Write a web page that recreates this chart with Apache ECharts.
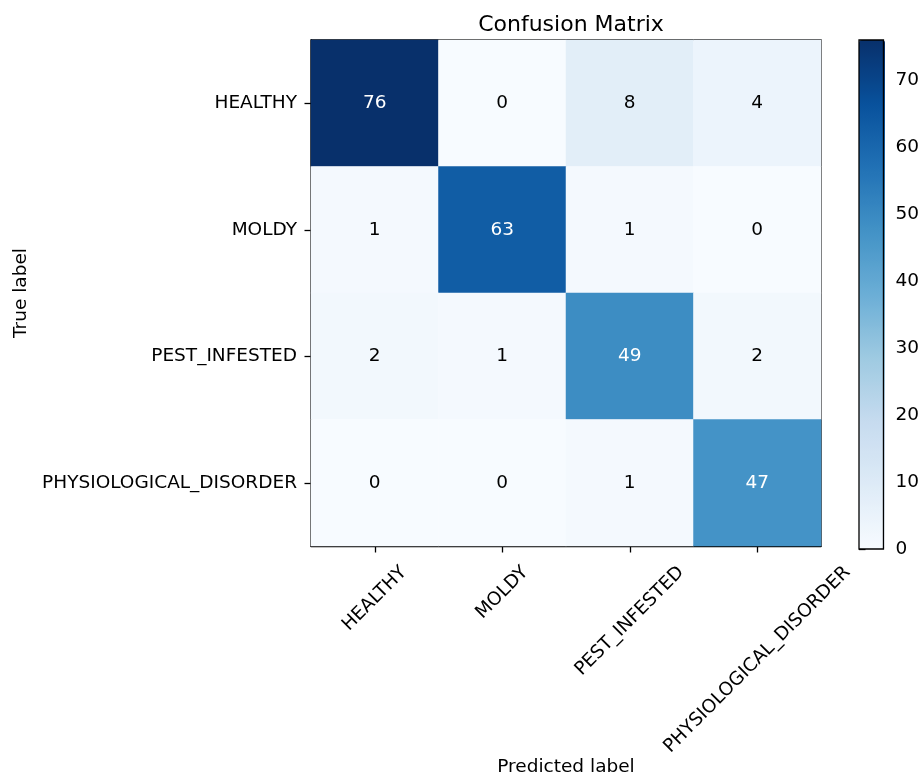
<!DOCTYPE html>
<html>
<head>
<meta charset="utf-8">
<script src="https://cdn.jsdelivr.net/npm/echarts@6/dist/echarts.min.js"></script>
<style>
  html, body { margin: 0; padding: 0; background: #fff; }
  #chart { width: 922px; height: 782px; }
</style>
</head>
<body>
<div id="chart"></div>
<script>
// Class names (rows = true label, columns = predicted label)
const classNames = ['HEALTHY', 'MOLDY', 'PEST_INFESTED', 'PHYSIOLOGICAL_DISORDER'];

// Counts per true class, one entry per predicted class
const rowHealthy = [76, 0, 8, 4];
const rowMoldy = [1, 63, 1, 0];
const rowPest = [2, 1, 49, 2];
const rowPhysio = [0, 0, 1, 47];

// Colorbar ticks
const colorbarTicks = [0, 10, 20, 30, 40, 50, 60, 70];

// Matplotlib "Blues" colormap stops
const bluesStops = ['#f7fbff', '#deebf7', '#c6dbef', '#9ecae1', '#6baed6',
                    '#4292c6', '#2171b5', '#08519c', '#08306b'];

const FONT = 'DejaVu Sans';
const FS = 18.5;
const MAIN = { left: 311, top: 40, width: 510, height: 509 };
const CBAR = { left: 859, top: 40, width: 26, height: 509 };

const rows = [rowHealthy, rowMoldy, rowPest, rowPhysio];
const allValues = rows.flat();
const vmax = Math.max(...allValues);
const thresh = vmax / 2;

const cells = [];
rows.forEach((row, i) => {
  row.forEach((v, j) => {
    cells.push({
      value: [classNames[j], classNames[i], v],
      label: { color: v > thresh ? '#ffffff' : '#000000' }
    });
  });
});

const chart = echarts.init(document.getElementById('chart'), null, { renderer: 'canvas' });

chart.setOption({
  animation: false,
  backgroundColor: '#ffffff',
  textStyle: { fontFamily: FONT },
  title: {
    text: 'Confusion Matrix',
    left: MAIN.left + MAIN.width / 2,
    textAlign: 'center',
    top: 9,
    textStyle: { fontFamily: FONT, fontSize: 22, fontWeight: 'normal', color: '#000' }
  },
  grid: [
    { left: MAIN.left, top: MAIN.top, width: MAIN.width, height: MAIN.height,
      show: true, borderColor: '#000', borderWidth: 1.3, backgroundColor: 'transparent' },
    { left: CBAR.left, top: CBAR.top, width: CBAR.width, height: CBAR.height,
      show: true, borderColor: '#000', borderWidth: 1.3, backgroundColor: 'transparent', z: 10 }
  ],
  xAxis: [
    {
      type: 'category', gridIndex: 0, data: classNames, position: 'bottom',
      name: 'Predicted label', nameLocation: 'middle', nameGap: 212,
      nameTextStyle: { fontFamily: FONT, fontSize: FS, color: '#000', verticalAlign: 'top' },
      axisLine: { show: true, lineStyle: { color: '#000', width: 1.3 } },
      axisTick: { show: true, alignWithLabel: true, interval: 0, length: 6.5,
                  lineStyle: { color: '#000', width: 1.3 } },
      axisLabel: { show: false, interval: 0 },
      splitLine: { show: false }
    },
    { type: 'value', gridIndex: 1, show: false, min: 0, max: 1 }
  ],
  yAxis: [
    {
      type: 'category', gridIndex: 0, data: classNames, inverse: true,
      name: 'True label', nameLocation: 'middle', nameGap: 280, nameRotate: 90,
      nameTextStyle: { fontFamily: FONT, fontSize: FS, color: '#000' },
      axisLine: { show: true, lineStyle: { color: '#000', width: 1.3 } },
      axisTick: { show: true, alignWithLabel: true, interval: 0, length: 6.5,
                  lineStyle: { color: '#000', width: 1.3 } },
      axisLabel: { fontFamily: FONT, fontSize: FS, color: '#000', margin: 14, interval: 0 },
      splitLine: { show: false }
    },
    {
      type: 'value', gridIndex: 1, position: 'right', min: 0, max: vmax,
      axisLine: { show: false },
      axisTick: { show: true, inside: false, length: 6.5, customValues: colorbarTicks,
                  lineStyle: { color: '#000', width: 1.3 } },
      axisLabel: { fontFamily: FONT, fontSize: FS, color: '#000', margin: 12, customValues: colorbarTicks },
      splitLine: { show: false }
    }
  ],
  visualMap: {
    type: 'continuous',
    seriesIndex: 0,
    min: 0, max: vmax,
    orient: 'vertical',
    left: CBAR.left, top: CBAR.top,
    itemWidth: CBAR.width, itemHeight: CBAR.height,
    padding: 0,
    calculable: false,
    hoverLink: false,
    realtime: false,
    text: null,
    showLabel: false,
    inRange: { color: bluesStops }
  },
  series: [
    {
      type: 'heatmap',
      xAxisIndex: 0, yAxisIndex: 0,
      data: cells,
      itemStyle: { borderWidth: 0 },
      label: { show: true, fontFamily: FONT, fontSize: FS,
               formatter: p => String(p.value[2]) },
      emphasis: { disabled: true }
    }
  ]
});

// Predicted-label tick texts, rotated 45° and centred under each tick
const ctx = document.createElement('canvas').getContext('2d');
ctx.font = FS + 'px "' + FONT + '"';
const lineH = FS * 1.164;
const axisBottom = MAIN.top + MAIN.height;
const pad = 13;
const tickTexts = classNames.map(name => {
  const x = chart.convertToPixel({ xAxisIndex: 0 }, name);
  const w = ctx.measureText(name).width;
  const half = Math.SQRT1_2 * (w + lineH) / 2;
  return {
    type: 'text',
    x: x,
    y: axisBottom + pad + half,
    rotation: Math.PI / 4,
    style: {
      text: name,
      font: FS + 'px "' + FONT + '"',
      fill: '#000',
      align: 'center',
      verticalAlign: 'middle'
    }
  };
});
chart.setOption({ graphic: tickTexts });
</script>
</body>
</html>
